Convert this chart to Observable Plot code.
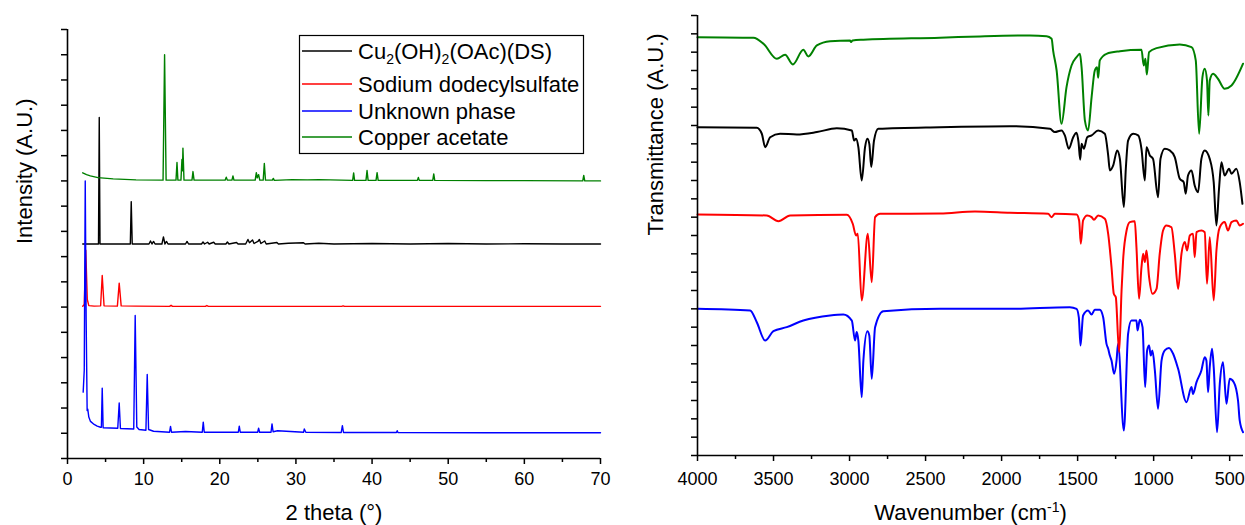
<!DOCTYPE html>
<html><head><meta charset="utf-8">
<script src="https://cdn.jsdelivr.net/npm/d3@7"></script>
<script src="https://cdn.jsdelivr.net/npm/@observablehq/plot@0.6"></script>
<style>
body{margin:0;background:#fff;}
#wrap{position:relative;width:1245px;height:525px;display:flex;font-family:'Liberation Sans',Arial,sans-serif;}
#wrap svg{display:block;}
</style></head><body><div id="wrap"></div>
<script>
// ---- series ----
const seriesNames = ["Cu2(OH)2(OAc)(DS)", "Sodium dodecylsulfate", "Unknown phase", "Copper acetate"];
const seriesColors = ["#000000", "#ff0000", "#0000ff", "#008000"];

// ---- XRD patterns: [2theta, intensity (offset, A.U.)] ----
const xrdCu = [[2.0,8.5],[3.0,8.5],[4.07,8.5],[4.17,13.51],[4.27,8.5],[6,8.5],[8.25,8.5],[8.37,10.18],[8.5,8.5],[10.7,8.5],[10.9,8.62],[11.1,8.5],[11.3,8.6],[11.5,8.5],[12.4,8.5],[12.6,8.78],[12.8,8.5],[13.0,8.6],[13.2,8.5],[15.5,8.5],[15.7,8.6],[15.9,8.5],[17.6,8.5],[17.8,8.58],[18.0,8.5],[18.4,8.57],[18.6,8.5],[19.2,8.57],[19.4,8.5],[20.8,8.5],[21.0,8.58],[21.2,8.5],[22.2,8.56],[22.4,8.5],[23.4,8.5],[23.7,8.68],[23.9,8.55],[24.3,8.66],[24.5,8.52],[25.0,8.6],[25.2,8.68],[25.4,8.52],[25.9,8.62],[26.1,8.5],[27.5,8.56],[27.7,8.5],[29,8.53],[31,8.55],[31.2,8.5],[33,8.53],[35,8.5],[40,8.52],[45,8.5],[50,8.52],[55,8.5],[60,8.51],[65,8.5],[70,8.5]];
const xrdSDS = [[2.0,6.03],[2.2,6.1],[2.4,8.25],[2.6,6.3],[2.8,6.06],[3.5,6.04],[4.35,6.05],[4.56,7.25],[4.8,6.05],[6.55,6.04],[6.79,6.95],[7.05,6.05],[9,6.04],[13.4,6.03],[13.6,6.07],[13.8,6.03],[18.1,6.03],[18.3,6.06],[18.5,6.03],[36,6.03],[36.2,6.05],[36.4,6.03],[70,6.03]];
const xrdUnknown = [[2.06,2.63],[2.2,3.5],[2.33,11.0],[2.45,5.5],[2.58,1.9],[2.66,1.96],[2.8,1.64],[3.02,1.47],[3.5,1.35],[3.9,1.28],[4.34,1.24],[4.45,1.24],[4.56,2.79],[4.68,1.22],[6.6,1.2],[6.79,2.2],[6.95,1.19],[8.7,1.17],[8.89,5.67],[9.1,1.25],[9.4,1.15],[10.3,1.12],[10.47,3.33],[10.65,1.15],[11.3,1.08],[13.4,1.04],[13.53,1.27],[13.66,1.04],[15.5,1.07],[17.7,1.04],[17.83,1.44],[17.96,1.04],[22.43,1.04],[22.56,1.28],[22.69,1.04],[24.97,1.04],[25.1,1.2],[25.23,1.04],[26.73,1.04],[26.86,1.37],[27.0,1.06],[27.6,1.1],[31.0,1.04],[31.1,1.17],[31.3,1.04],[35.95,1.03],[36.1,1.3],[36.25,1.03],[43.2,1.03],[43.3,1.1],[43.4,1.03],[55,1.02],[70,1.02]];
const xrdCuAc = [[2.0,11.32],[2.5,11.25],[3.0,11.2],[4.0,11.13],[6.0,11.08],[9.0,11.04],[12.55,11.03],[12.75,16.0],[12.95,11.03],[14.25,11.03],[14.38,11.73],[14.5,11.03],[14.9,11.03],[15.03,11.85],[15.1,11.4],[15.16,12.3],[15.3,11.03],[16.35,11.03],[16.48,11.37],[16.62,11.03],[20.7,11.03],[20.85,11.15],[21.0,11.03],[21.6,11.03],[21.73,11.2],[21.86,11.03],[24.65,11.03],[24.8,11.33],[24.92,11.12],[25.1,11.25],[25.25,11.03],[25.7,11.03],[25.85,11.69],[26.0,11.03],[26.9,11.03],[27.03,11.1],[27.16,11.02],[29.5,11.05],[31.5,11.04],[33,11.05],[37.45,11.02],[37.58,11.32],[37.7,11.02],[39.2,11.02],[39.34,11.41],[39.48,11.02],[40.52,11.02],[40.66,11.33],[40.8,11.02],[45.95,11.02],[46.08,11.14],[46.2,11.02],[47.97,11.02],[48.1,11.28],[48.23,11.02],[55,11.01],[60,11.01],[67.67,11.0],[67.8,11.22],[67.93,11.0],[70,11.0]];

// ---- IR spectra: [wavenumber cm-1, transmittance (offset, A.U.)] ----
const irCu = [[4000,17.91],[3610,17.88],[3577,17.55],[3555,16.82],[3522,17.36],[3457,17.55],[3347,17.51],[3215,17.64],[3084,17.85],[2985,17.73],[2970,17.18],[2957,17.28],[2942,16.82],[2920,15.00],[2898,16.82],[2883,17.28],[2870,17.00],[2857,15.73],[2839,17.18],[2811,17.82],[2405,17.91],[1945,17.96],[1682,17.82],[1650,17.64],[1606,17.73],[1584,17.46],[1558,16.73],[1529,17.36],[1507,17.60],[1494,17.09],[1483,16.13],[1474,17.00],[1459,16.73],[1437,17.36],[1408,17.46],[1365,17.73],[1321,17.55],[1299,16.37],[1288,15.55],[1266,15.82],[1240,16.64],[1222,16.18],[1196,13.55],[1183,15.64],[1168,17.18],[1135,17.55],[1102,17.46],[1080,16.73],[1058,15.00],[1047,16.82],[1025,16.37],[1004,16.18],[971,14.09],[955,16.18],[927,16.73],[894,16.64],[861,16.27],[828,15.09],[802,14.91],[789,14.28],[774,15.27],[751,15.55],[730,14.73],[708,14.36],[686,16.18],[664,16.64],[631,16.18],[605,14.91],[587,12.55],[570,14.55],[554,16.00],[533,15.27],[504,15.64],[488,15.37],[456,15.64],[434,14.91],[416,13.73]];
const irSDS = [[4000,13.15],[3544,13.09],[3468,12.78],[3391,13.09],[3018,13.13],[2979,12.64],[2957,12.00],[2946,12.09],[2920,8.46],[2880,12.09],[2854,9.45],[2832,13.00],[2799,13.18],[2405,13.20],[2175,13.31],[1945,13.24],[1694,13.18],[1671,13.00],[1650,13.18],[1507,13.15],[1490,12.82],[1479,11.55],[1464,12.82],[1437,13.09],[1408,13.00],[1393,12.86],[1365,13.09],[1321,12.91],[1299,12.09],[1277,10.27],[1262,8.82],[1249,8.64],[1227,5.64],[1211,9.00],[1201,10.64],[1178,12.27],[1157,12.73],[1124,12.78],[1113,11.36],[1096,8.55],[1080,10.27],[1069,11.00],[1058,10.55],[1047,11.18],[1030,9.73],[1008,8.82],[981,9.09],[960,11.00],[938,12.27],[916,12.55],[883,12.45],[861,11.00],[839,9.09],[817,11.00],[795,11.64],[780,11.18],[762,12.00],[741,12.09],[730,10.82],[718,12.18],[686,12.27],[664,12.18],[649,9.37],[631,11.91],[605,8.46],[587,11.18],[565,12.45],[533,12.73],[511,12.27],[488,12.73],[456,12.82],[434,12.55],[412,12.64]];
const irUnknown = [[4000,8.00],[3654,7.91],[3610,7.27],[3555,6.27],[3501,6.78],[3413,7.00],[3304,7.36],[3128,7.64],[3041,7.69],[2985,7.36],[2964,6.27],[2953,6.73],[2942,6.27],[2920,3.18],[2909,5.18],[2883,6.78],[2870,6.55],[2854,4.18],[2832,7.00],[2778,7.87],[2405,8.00],[1945,8.00],[1551,8.09],[1507,8.00],[1492,7.54],[1481,6.00],[1464,7.64],[1431,7.91],[1408,7.69],[1387,7.95],[1354,7.95],[1332,7.54],[1310,6.09],[1299,5.82],[1288,5.45],[1277,5.18],[1260,4.46],[1244,5.18],[1234,6.09],[1196,1.36],[1168,6.64],[1146,7.36],[1113,7.36],[1106,6.82],[1091,7.40],[1073,7.00],[1056,3.73],[1043,5.73],[1030,6.00],[1019,5.45],[1008,5.73],[992,4.64],[971,2.55],[948,5.18],[927,5.73],[899,5.87],[872,5.55],[839,4.73],[784,2.91],[751,3.73],[741,3.36],[718,4.00],[686,4.64],[664,5.36],[653,5.18],[642,3.45],[631,4.82],[616,5.82],[605,4.82],[583,1.27],[565,3.91],[544,5.09],[521,2.82],[500,4.18],[473,4.00],[445,3.00],[434,1.91],[412,1.27]];
const irCuAc = [[4000,22.82],[3632,22.79],[3566,22.46],[3478,21.64],[3424,21.86],[3373,21.33],[3304,22.13],[3271,21.77],[3215,22.37],[3128,22.60],[2997,22.64],[2990,22.55],[2980,22.64],[2909,22.68],[2405,22.79],[2142,22.86],[1814,22.91],[1704,22.87],[1671,22.73],[1661,22.09],[1638,21.00],[1606,18.09],[1573,20.09],[1540,21.27],[1507,21.73],[1485,21.91],[1474,21.18],[1452,18.27],[1431,17.73],[1408,19.55],[1387,21.00],[1372,21.18],[1365,20.60],[1354,21.55],[1310,21.91],[1222,22.05],[1080,22.13],[1065,21.27],[1054,21.64],[1045,20.78],[1030,22.00],[981,22.22],[828,22.42],[751,22.27],[723,21.55],[701,17.55],[679,20.64],[664,21.09],[649,20.46],[640,18.55],[631,20.46],[609,20.82],[577,20.55],[533,20.00],[488,20.18],[412,21.37]];

// ---- axis ticks / titles ----
const xrdMajorTicks = [0,10,20,30,40,50,60,70];
const xrdMinorTicks = [5,15,25,35,45,55,65];
const xrdYTicks = d3.range(0, 18);
const irMajorTicks = [4000,3500,3000,2500,2000,1500,1000,500];
const irMinorTicks = [3750,3250,2750,2250,1750,1250,750];
const irYTicks = d3.range(0, 25);
const xrdXTitle = "2 theta (°)", xrdYTitle = "Intensity (A.U.)";
const irXTitle = "Wavenumber (cm-1)", irYTitle = "Transmittance (A.U.)";

const rows = (arr, s) => arr.map(([x, y]) => ({x, y, s}));
const color = {domain: seriesNames, range: seriesColors};
const font = "'Liberation Sans', Arial, sans-serif";
const plain = d3.format("d");

const xrdData = [...rows(xrdSDS, seriesNames[1]), ...rows(xrdCu, seriesNames[0]), ...rows(xrdCuAc, seriesNames[3]), ...rows(xrdUnknown, seriesNames[2])];
const irData = [...rows(irUnknown, seriesNames[2]), ...rows(irSDS, seriesNames[1]), ...rows(irCu, seriesNames[0]), ...rows(irCuAc, seriesNames[3])];

const xrd = Plot.plot({
  width: 620, height: 525,
  marginLeft: 67, marginRight: 20, marginTop: 29, marginBottom: 67,
  x: {domain: [0, 70]},
  y: {domain: [0, 17]},
  color,
  style: {fontFamily: font, fontSize: "18px", color: "#000", background: "transparent", overflow: "visible"},
  marks: [
    Plot.line(xrdData, {x: "x", y: "y", z: "s", stroke: "s", strokeWidth: 1.4, strokeLinejoin: "round"}),
    Plot.ruleX([0], {strokeWidth: 1.6}),
    Plot.ruleY([0], {strokeWidth: 1.6}),
    Plot.axisX({ticks: xrdMajorTicks, tickFormat: plain, tickSize: 6, tickPadding: 8, label: null, strokeWidth: 1.5}),
    Plot.axisX({ticks: xrdMinorTicks, tickSize: 4, tickFormat: () => "", label: null, strokeWidth: 1.5}),
    Plot.axisY({ticks: xrdYTicks, tickSize: 6, tickFormat: () => "", label: null, strokeWidth: 1.5}),
    Plot.text([xrdXTitle], {frameAnchor: "bottom", lineAnchor: "bottom", dy: 61, fontSize: 22}),
    Plot.text([xrdYTitle], {frameAnchor: "left", lineAnchor: "bottom", rotate: -90, dx: -36, fontSize: 22})
  ]
});

const ir = Plot.plot({
  width: 625, height: 525,
  marginLeft: 77, marginRight: 2, marginTop: 15, marginBottom: 70,
  x: {domain: [4000, 409]},
  y: {domain: [0, 24]},
  color,
  style: {fontFamily: font, fontSize: "18px", color: "#000", background: "transparent", overflow: "visible"},
  marks: [
    Plot.line(irData, {x: "x", y: "y", z: "s", stroke: "s", strokeWidth: 2, strokeLinejoin: "round", curve: "monotone-x"}),
    Plot.ruleX([4000], {strokeWidth: 1.6}),
    Plot.ruleY([0], {strokeWidth: 1.6}),
    Plot.axisX({ticks: irMajorTicks, tickFormat: plain, tickSize: 6, tickPadding: 11, label: null, strokeWidth: 1.5}),
    Plot.axisX({ticks: irMinorTicks, tickSize: 4, tickFormat: () => "", label: null, strokeWidth: 1.5}),
    Plot.axisY({ticks: irYTicks, tickSize: 6, tickFormat: () => "", label: null, strokeWidth: 1.5}),
    Plot.text([irXTitle], {frameAnchor: "bottom", lineAnchor: "bottom", dy: 64, fontSize: 22}),
    Plot.text([irYTitle], {frameAnchor: "left", lineAnchor: "bottom", rotate: -90, dx: -35, fontSize: 22})
  ]
});

// superscript for cm-1
d3.select(ir).selectAll("text").filter(function() { return this.textContent === irXTitle; })
  .each(function() {
    const t = d3.select(this);
    t.text(null);
    t.append("tspan").text("Wavenumber (cm");
    t.append("tspan").attr("dy", -8).attr("font-size", 14).text("-1");
    t.append("tspan").attr("dy", 8).text(")");
  });

const wrap = document.getElementById("wrap");
wrap.append(xrd, ir);

// legend (inside the XRD panel)
const leg = d3.create("svg").attr("width", 288).attr("height", 122)
  .style("position", "absolute").style("left", "298px").style("top", "34px")
  .attr("font-family", font).attr("font-size", 22);
leg.append("rect").attr("x", 1.5).attr("y", 1.5).attr("width", 284).attr("height", 118)
  .attr("fill", "#fff").attr("stroke", "#000").attr("stroke-width", 1.2);
const legRows = [17, 50, 77, 103];
const legOrder = [0, 1, 2, 3];
legOrder.forEach((k, i) => {
  const y = legRows[i];
  leg.append("line").attr("x1", 4).attr("x2", 54).attr("y1", y).attr("y2", y)
    .attr("stroke", seriesColors[k]).attr("stroke-width", 1.5);
  const t = leg.append("text").attr("x", 60).attr("y", y + 7.5).attr("fill", "#000");
  if (k === 0) {
    t.append("tspan").text("Cu");
    t.append("tspan").attr("dy", 5).attr("font-size", 14).text("2");
    t.append("tspan").attr("dy", -5).text("(OH)");
    t.append("tspan").attr("dy", 5).attr("font-size", 14).text("2");
    t.append("tspan").attr("dy", -5).text("(OAc)(DS)");
  } else {
    t.text(seriesNames[k]);
  }
});
wrap.append(leg.node());
</script></body></html>
